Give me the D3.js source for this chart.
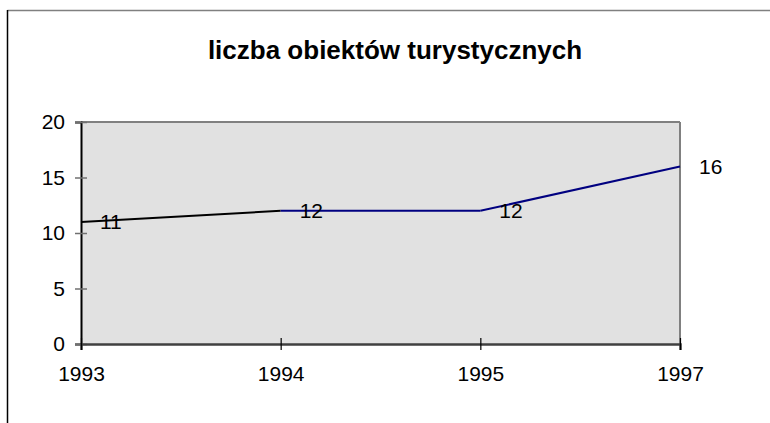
<!DOCTYPE html>
<html>
<head>
<meta charset="utf-8">
<script src="https://cdn.jsdelivr.net/npm/d3@7"></script>
<style>
  body { margin: 0; background: #fff; }
  text { font-family: "Liberation Sans", Arial, sans-serif; fill: #000; }
</style>
</head>
<body>
<div id="chart"></div>
<script>
// chart data
var years = ["1993", "1994", "1995", "1997"];
var values = [11, 12, 12, 16];
var yTicks = [0, 5, 10, 15, 20];
var segColors = ["#000000", "#000080", "#000080"]; // first segment is black, the rest navy

var width = 770, height = 423;
var margin = {top: 122, right: 90, bottom: 79, left: 81};
var plotW = width - margin.left - margin.right;
var plotH = height - margin.top - margin.bottom;

var svg = d3.select("#chart").append("svg")
  .attr("width", width)
  .attr("height", height);

// outer frame (only left and top edge visible)
svg.append("line").attr("x1", 7.5).attr("x2", width).attr("y1", 10.5).attr("y2", 10.5)
  .attr("stroke", "#808080").attr("stroke-width", 1.5);
svg.append("line").attr("x1", 7.5).attr("x2", 7.5).attr("y1", 10).attr("y2", height)
  .attr("stroke", "#000").attr("stroke-width", 1.5);

// title
svg.append("text")
  .attr("x", 395).attr("y", 59)
  .attr("text-anchor", "middle")
  .style("font-size", "26px").style("font-weight", "bold")
  .text("liczba obiektów turystycznych");

var g = svg.append("g").attr("transform", "translate(" + margin.left + "," + margin.top + ")");

var x = d3.scalePoint().domain(years).range([0, plotW]);
var y = d3.scaleLinear().domain([0, 20]).range([plotH, 0]);

// plot area
g.append("rect").attr("width", plotW).attr("height", plotH).attr("fill", "#e1e1e1");
g.append("line").attr("x1", 0).attr("x2", plotW).attr("y1", 0).attr("y2", 0)
  .attr("stroke", "#808080").attr("stroke-width", 2);
g.append("line").attr("x1", plotW).attr("x2", plotW).attr("y1", 0).attr("y2", plotH)
  .attr("stroke", "#808080").attr("stroke-width", 2);

// y axis
var yAxis = g.append("g")
  .call(d3.axisLeft(y).tickValues(yTicks).tickSize(6).tickPadding(10));
yAxis.select(".domain").attr("stroke", "#000").attr("stroke-width", 2);
yAxis.selectAll(".tick line").attr("x1", 6).attr("stroke", "#707070").attr("stroke-width", 1.5);
yAxis.selectAll(".tick text").style("font-size", "21px").attr("fill", "#000");

// x axis
var xAxis = g.append("g")
  .attr("transform", "translate(0," + plotH + ")")
  .call(d3.axisBottom(x).tickSize(6).tickPadding(16));
xAxis.select(".domain").attr("stroke", "#404040").attr("stroke-width", 2.5);
xAxis.selectAll(".tick line").attr("y1", -6).attr("stroke", "#000").attr("stroke-width", 1.2);
xAxis.selectAll(".tick text").style("font-size", "21px").attr("fill", "#000");

// line segments
var segs = d3.pairs(years.map(function(d, i) { return {year: d, value: values[i]}; }));
g.selectAll(".seg")
  .data(segs)
  .enter().append("line")
    .attr("class", "seg")
    .attr("x1", d => x(d[0].year))
    .attr("y1", d => y(d[0].value))
    .attr("x2", d => x(d[1].year))
    .attr("y2", d => y(d[1].value))
    .attr("stroke", (d, i) => segColors[i])
    .attr("stroke-width", 2);

// data labels
g.selectAll(".lbl")
  .data(values)
  .enter().append("text")
    .attr("class", "lbl")
    .attr("x", (d, i) => x(years[i]) + 19)
    .attr("y", d => y(d))
    .attr("dy", "0.36em")
    .style("font-size", "21px")
    .text(d => d);
</script>
</body>
</html>
